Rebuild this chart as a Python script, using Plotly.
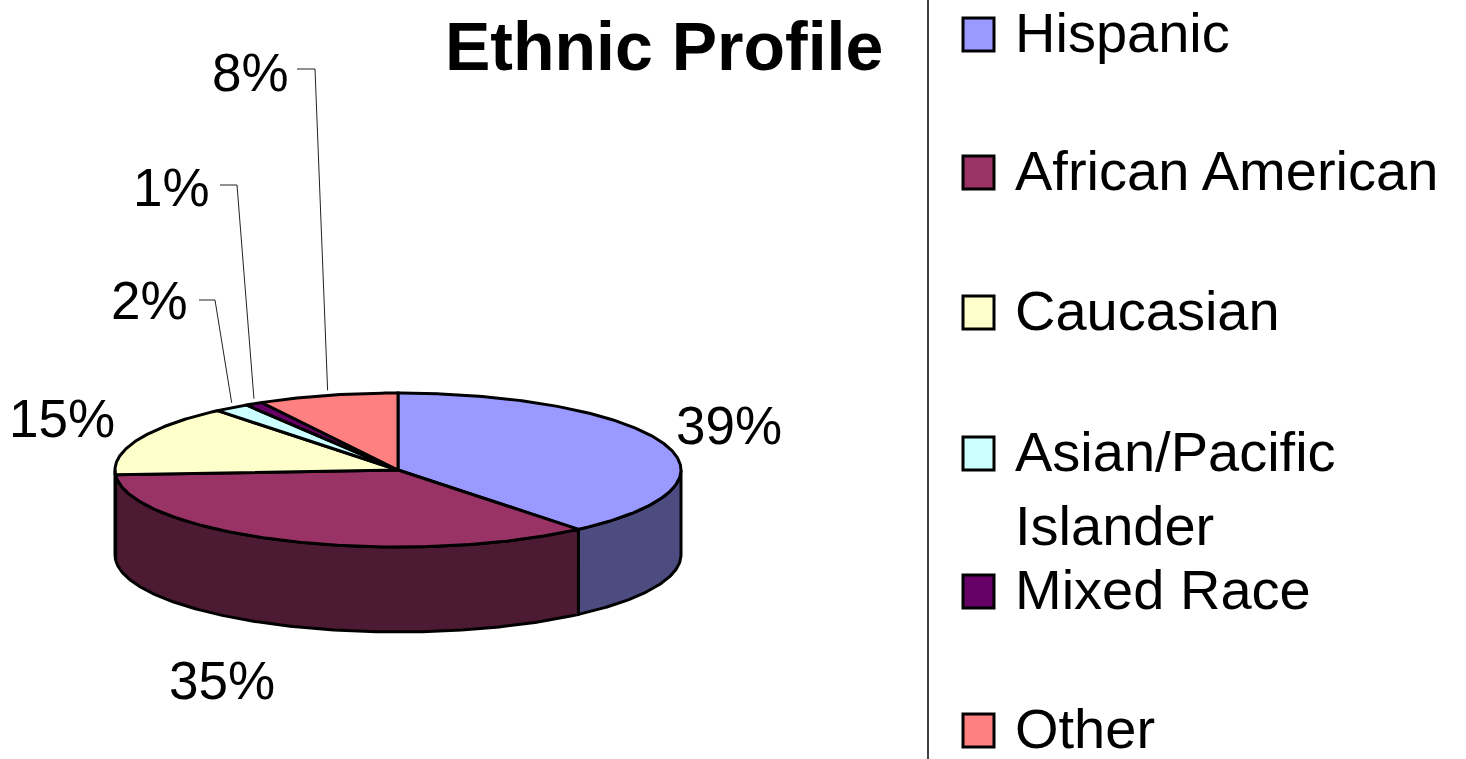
import math
import plotly.graph_objects as go

# ---- data ----
categories = ["Hispanic", "African American", "Caucasian", "Asian/Pacific Islander", "Mixed Race", "Other"]
values = [39, 35, 15, 2, 1, 8]
legend_labels = ["Hispanic", "African American", "Caucasian", "Asian/Pacific<br>Islander", "Mixed Race", "Other"]

# ---- styles ----
top_colors = ["#9999FF", "#993366", "#FFFFCC", "#CCFFFF", "#660066", "#FF8080"]
side_colors = ["#4C4C80", "#4D1A33", "#808066", "#668080", "#330033", "#804040"]

W, H = 1466, 759
CX, CY, RX, RY, DEPTH = 398, 470, 283, 77, 85
LINE_W = 3

# label positions (layout) for each slice
label_pos = [(729, 425), (222, 680), (62, 418), (149, 300), (171, 187), (250, 72)]
# leader elbows (start, elbow) for small slices; None = no leader
leaders = [None, None, None, ((199, 300), (215, 300)), ((220, 185), (237, 185)), ((297, 69), (315, 69))]

legend_y = [32, 170, 310, 451, 589, 728]
legend_line2_gap = 74


def pt(t, dy=0.0):
    r = math.radians(t)
    return CX + RX * math.sin(r), CY - RY * math.cos(r) + dy


def arc(a, b, dy=0.0, n=None):
    if n is None:
        n = max(2, int(abs(b - a) * 1.5) + 2)
    xs, ys = [], []
    for i in range(n):
        t = a + (b - a) * i / (n - 1)
        x, y = pt(t, dy)
        xs.append(x)
        ys.append(y)
    return xs, ys


fig = go.Figure()

total = sum(values)
bounds = []
acc = 0.0
for v in values:
    a = acc / total * 360
    acc += v
    b = acc / total * 360
    bounds.append((a, b))

# sides (visible front half: 90..270)
for i, (a, b) in enumerate(bounds):
    lo, hi = max(a, 90), min(b, 270)
    if hi <= lo:
        continue
    tx, ty = arc(lo, hi)
    bx, by = arc(hi, lo, dy=DEPTH)
    xs = tx + bx + [tx[0]]
    ys = ty + by + [ty[0]]
    fig.add_trace(go.Scatter(x=xs, y=ys, mode="lines", fill="toself",
                             fillcolor=side_colors[i], line=dict(color="black", width=LINE_W),
                             hoverinfo="skip", showlegend=False))

# tops
for i, (a, b) in enumerate(bounds):
    ax_, ay_ = arc(a, b)
    xs = [CX] + ax_ + [CX]
    ys = [CY] + ay_ + [CY]
    fig.add_trace(go.Scatter(x=xs, y=ys, mode="lines", fill="toself",
                             fillcolor=top_colors[i], line=dict(color="black", width=LINE_W, shape="linear"),
                             hoverinfo="text", text=f"{categories[i]}: {values[i]}%",
                             showlegend=False))

# leader lines
for i, (a, b) in enumerate(bounds):
    if leaders[i] is None:
        continue
    (sx, sy), (ex, ey) = leaders[i]
    mx, my = pt((a + b) / 2)
    fig.add_trace(go.Scatter(x=[sx, ex, mx], y=[sy, ey, my - 5], mode="lines",
                             line=dict(color="#222222", width=1), hoverinfo="skip", showlegend=False))

annotations = []
FONT = "Liberation Sans, Arial, sans-serif"
for i, v in enumerate(values):
    x, y = label_pos[i]
    annotations.append(dict(x=x, y=y, xref="x", yref="y", text=f"{v}%", showarrow=False,
                            xanchor="center", yanchor="middle",
                            font=dict(family=FONT, size=53, color="black")))

# title
annotations.append(dict(x=885, y=46, xref="x", yref="y", text="<b>Ethnic Profile</b>", showarrow=False,
                        xanchor="right", yanchor="middle",
                        font=dict(family=FONT, size=68, color="black")))

shapes = []
# legend box left border
shapes.append(dict(type="line", x0=928, x1=928, y0=-20, y1=H + 20, xref="x", yref="y",
                   line=dict(color="black", width=1.5)))
for i, lab in enumerate(legend_labels):
    y = legend_y[i]
    shapes.append(dict(type="rect", x0=963, x1=994, y0=y - 14, y1=y + 19, xref="x", yref="y",
                       fillcolor=top_colors[i], line=dict(color="black", width=3)))
    parts = lab.split("<br>")
    for j, p in enumerate(parts):
        annotations.append(dict(x=1013, y=y + j * legend_line2_gap, xref="x", yref="y", text=p,
                                showarrow=False, xanchor="left", yanchor="middle",
                                font=dict(family=FONT, size=56, color="black")))

fig.update_layout(
    width=W, height=H,
    margin=dict(l=0, r=0, t=0, b=0),
    paper_bgcolor="white", plot_bgcolor="white",
    xaxis=dict(range=[0, W], visible=False, fixedrange=True),
    yaxis=dict(range=[H, 0], visible=False, fixedrange=True),
    annotations=annotations,
    shapes=shapes,
    showlegend=False,
)

fig.write_html("out.html",
               config={"displayModeBar": False},
               post_script="document.body.style.margin='0';document.body.style.overflow='hidden';")
